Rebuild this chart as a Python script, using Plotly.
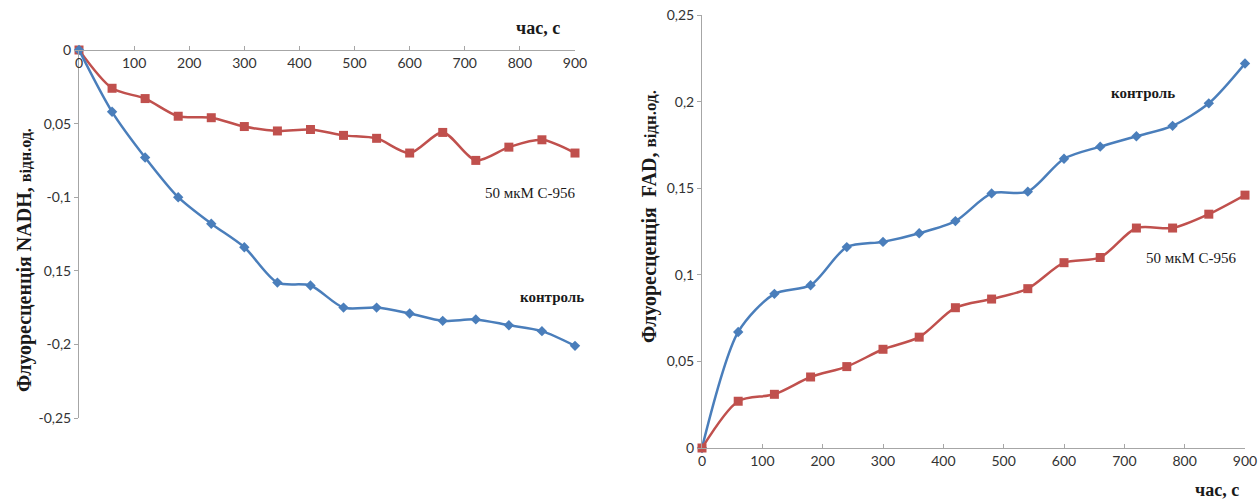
import plotly.graph_objects as go

# time, s
time_s = [0, 60, 120, 180, 240, 300, 360, 420, 480, 540, 600, 660, 720, 780, 840, 900]

# Left panel: NADH fluorescence
nadh_control = [0, -0.042, -0.073, -0.100, -0.118, -0.134, -0.158, -0.160, -0.175, -0.175,
                 -0.179, -0.184, -0.183, -0.187, -0.191, -0.201]
nadh_c956 = [0, -0.026, -0.033, -0.045, -0.046, -0.052, -0.055, -0.054, -0.058, -0.060,
             -0.070, -0.056, -0.075, -0.066, -0.061, -0.070]

# Right panel: FAD fluorescence
fad_control = [0, 0.067, 0.089, 0.094, 0.116, 0.119, 0.124, 0.131, 0.147, 0.148,
               0.167, 0.174, 0.180, 0.186, 0.199, 0.222]
fad_c956 = [0, 0.027, 0.031, 0.041, 0.047, 0.057, 0.064, 0.081, 0.086, 0.092,
            0.107, 0.110, 0.127, 0.127, 0.135, 0.146]

x_ticks = [0, 100, 200, 300, 400, 500, 600, 700, 800, 900]
left_y_vals = [0, -0.05, -0.1, -0.15, -0.2, -0.25]
left_y_text = ["0", "0,05", "-0,1", "0,15", "-0,2", "-0,25"]
right_y_vals = [0, 0.05, 0.1, 0.15, 0.2, 0.25]
right_y_text = ["0", "0,05", "0,1", "0,15", "0,2", "0,25"]

BLUE = "#4A7EBB"
RED = "#C0504D"
W, H = 1260, 499

def fx(px):
    return px / W

def fy(py):
    return 1 - py / H

fig = go.Figure()

def add_series(x, y, color, symbol, size, xa, ya):
    fig.add_trace(go.Scatter(
        x=x, y=y, mode="lines+markers", xaxis=xa, yaxis=ya,
        line=dict(color=color, width=2.5, shape="spline", smoothing=0.8),
        marker=dict(color=color, symbol=symbol, size=size),
        cliponaxis=False, showlegend=False, hoverinfo="skip"))

add_series(time_s, nadh_c956, RED, "square", 9, "x", "y")
add_series(time_s, nadh_control, BLUE, "diamond", 8, "x", "y")
add_series(time_s, fad_control, BLUE, "diamond", 8, "x2", "y2")
add_series(time_s, fad_c956, RED, "square", 9, "x2", "y2")

tick_font = dict(family="Lato, Liberation Sans, sans-serif", size=14, color="#333333")
axis_common = dict(showgrid=False, zeroline=False, showline=True, linecolor="#A6A6A6",
                   linewidth=1, ticklen=4, tickcolor="#A6A6A6",
                   tickfont=tick_font, automargin=False)

fig.update_layout(
    width=W, height=H,
    margin=dict(l=0, r=0, t=0, b=0),
    paper_bgcolor="white", plot_bgcolor="white",
    xaxis=dict(domain=[fx(79), fx(575)], range=[0, 900], anchor="free", position=fy(50),
               side="bottom", ticks="inside", tickvals=x_ticks, **axis_common),
    yaxis=dict(domain=[fy(418), fy(50)], range=[-0.25, 0], anchor="x", ticks="outside",
               tickvals=left_y_vals, ticktext=left_y_text, **axis_common),
    xaxis2=dict(domain=[fx(702), fx(1245)], range=[0, 900], anchor="y2", ticks="inside",
                tickvals=x_ticks, **axis_common),
    yaxis2=dict(domain=[fy(448), fy(15)], range=[0, 0.25], anchor="x2", ticks="outside",
                tickvals=right_y_vals, ticktext=right_y_text, **axis_common),
)

serif = "Liberation Serif, Times New Roman, serif"

def ann(text, px, py, size, angle=0, bold=False):
    fig.add_annotation(
        text=("<b>%s</b>" % text) if bold else text,
        x=fx(px), y=fy(py), xref="paper", yref="paper",
        xanchor="center", yanchor="middle", showarrow=False, textangle=angle,
        font=dict(family=serif, size=size, color="#1a1a1a"))

ann("час, с", 538, 28, 18, bold=True)
ann("час, с", 1217, 490, 18, bold=True)
ann("50 мкМ С-956", 530, 193, 15)
ann("контроль", 552, 297, 15, bold=True)
ann("контроль", 1143, 93, 15, bold=True)
ann("50 мкМ С-956", 1191, 258, 15)

ann("Флуоресценція NADH, <span style='font-size:16px'>відн.од.</span>", 24, 260, 20,
    angle=-90, bold=True)
ann("Флуоресценція  FAD, <span style='font-size:17px'>відн.од.</span>", 649, 216, 20,
    angle=-90, bold=True)

fig.write_html("out.html", config={"displayModeBar": False},
               post_script="document.body.style.margin='0';")
